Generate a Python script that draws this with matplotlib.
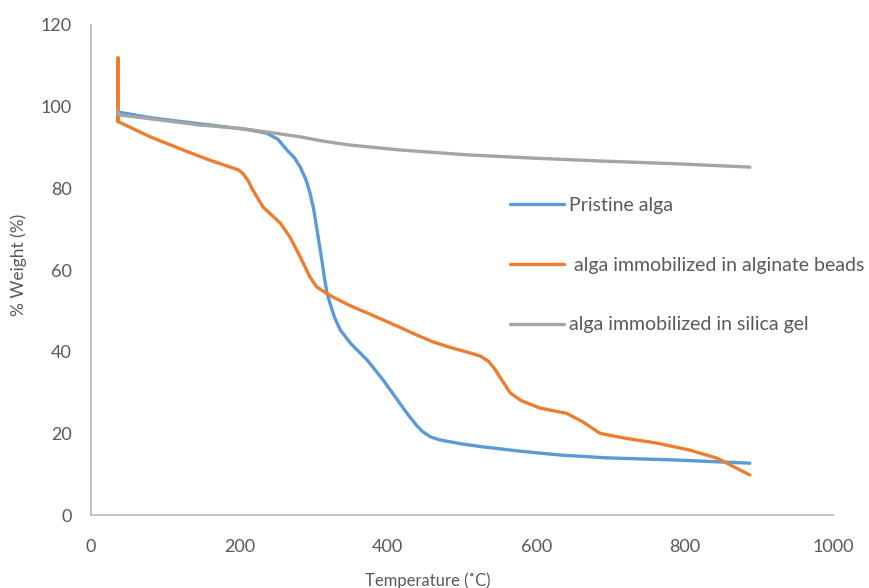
import matplotlib.pyplot as plt

plt.rcParams['font.family'] = ['Lato', 'DejaVu Sans']

# TGA curves: temperature (C) vs remaining weight (%)
temp_pristine = [36, 80, 124, 170, 214, 237, 252, 264, 274, 282, 290, 295, 300,
                 304, 308, 311, 315, 318, 322, 328, 336, 350, 372, 394, 416,
                 428, 439, 447, 458, 470, 500, 528, 580, 632, 695, 784, 888]
wt_pristine = [98.7, 97.3, 96.3, 95.3, 94.3, 93.5, 92.0, 89.4, 87.5, 85.2, 82.0,
               78.9, 75.0, 70.5, 66.0, 62.5, 57.6, 54.4, 51.9, 48.5, 45.3, 42.0,
               38.0, 33.0, 27.4, 24.4, 21.9, 20.4, 19.1, 18.4, 17.4, 16.7, 15.6,
               14.7, 14.0, 13.5, 12.7]

temp_alginate = [36, 36.5, 37, 80, 124, 160, 191, 199, 205, 212, 218, 232, 255,
                 268, 282, 295, 304, 313, 326, 350, 372, 416, 440, 461, 485,
                 507, 525, 536, 544, 551, 565, 580, 605, 641, 663, 686, 717,
                 763, 807, 844, 888]
wt_alginate = [96.3, 112.0, 96.3, 92.6, 89.4, 86.9, 85.0, 84.5, 83.6, 81.8,
               79.6, 75.4, 71.5, 68.1, 63.2, 58.3, 55.9, 54.8, 53.4, 51.2, 49.5,
               46.0, 44.0, 42.4, 41.0, 39.9, 38.9, 37.6, 35.8, 33.8, 29.9, 28.0,
               26.2, 24.9, 22.8, 20.0, 18.9, 17.6, 15.9, 13.9, 9.8]

temp_silica = [36, 37, 90, 147, 200, 237, 282, 315, 349, 416, 507, 596, 686,
               790, 888]
wt_silica = [99.0, 98.0, 96.8, 95.5, 94.7, 93.8, 92.6, 91.5, 90.6, 89.4, 88.2,
             87.4, 86.7, 86.0, 85.2]

labels = ['Pristine alga', ' alga immobilized in alginate beads',
          'alga immobilized in silica gel']
colors = ['#5B9BD5', '#ED7D31', '#A5A5A5']
text_color = '#595959'

fig = plt.figure(figsize=(8.7, 5.88), dpi=100)
ax = fig.add_axes([0.1046, 0.1241, 0.8529, 0.8334])

series = [(temp_pristine, wt_pristine), (temp_alginate, wt_alginate),
          (temp_silica, wt_silica)]
for (t, w), lab, c in zip(series, labels, colors):
    ax.plot(t, w, color=c, lw=2.4, label=lab, solid_capstyle='round',
            solid_joinstyle='round')

ax.set_xlim(0, 1000)
ax.set_ylim(0, 120)
ax.set_xticks(range(0, 1001, 200))
ax.set_yticks(range(0, 121, 20))
ax.tick_params(axis='x', length=0, pad=17, labelsize=13, labelcolor=text_color)
ax.tick_params(axis='y', length=0, pad=14, labelsize=13, labelcolor=text_color)

for side in ['top', 'right']:
    ax.spines[side].set_visible(False)
for side in ['left', 'bottom']:
    ax.spines[side].set_color('#BFBFBF')
    ax.spines[side].set_linewidth(1.3)

ax.set_xlabel('Temperature (\u02daC)', fontsize=12, color=text_color)
ax.set_ylabel('% Weight (%)', fontsize=12.5, color=text_color)
ax.xaxis.set_label_coords(0.454, -0.118)
ax.yaxis.set_label_coords(-0.086, 0.51)

leg = ax.legend(loc='upper left', bbox_to_anchor=(0.541, 0.685),
                frameon=False, fontsize=14, handlelength=2.8,
                handletextpad=0.25, labelspacing=2.2)
for txt in leg.get_texts():
    txt.set_color(text_color)

fig.savefig('out.png', dpi=100)
